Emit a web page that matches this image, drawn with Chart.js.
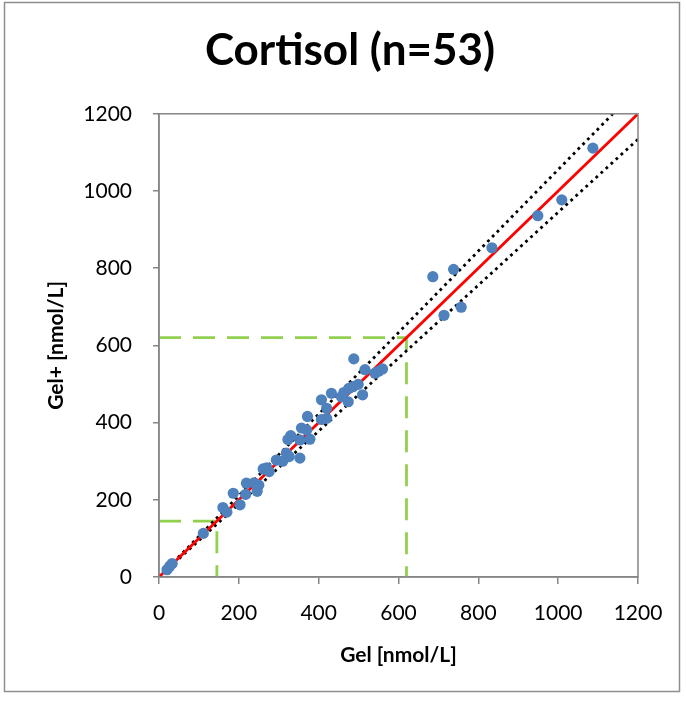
<!DOCTYPE html>
<html>
<head>
<meta charset="utf-8">
<title>Cortisol</title>
<script src="https://cdn.jsdelivr.net/npm/chart.js@4"></script>
<style>
  html, body { margin: 0; padding: 0; background: #fff; }
  #wrap { position: absolute; left: 0; top: 0; width: 686px; height: 702px; }
</style>
</head>
<body>
<div id="wrap"><canvas id="graficoCortisol" width="686" height="702"></canvas></div>
<script>
// Gel vs Gel+ cortisol values (nmol/L)
const gelValues = [
  20, 27, 33, 111, 160, 170, 186, 203, 217, 219,
  238, 246, 250, 261, 270, 276, 294, 310, 319, 326,
  353, 323, 330, 353, 378, 357, 370, 372, 407, 420,
  420, 407, 432, 457, 463, 474, 476, 486, 499, 510,
  488, 516, 541, 550, 560, 686, 714, 738, 757, 834,
  949, 1009, 1087
];
const gelPlusValues = [
  19, 28, 35, 113, 180, 168, 217, 187, 214, 243,
  244, 222, 238, 280, 283, 273, 303, 300, 321, 312,
  308, 356, 366, 355, 357, 386, 381, 416, 408, 411,
  437, 459, 476, 467, 478, 454, 489, 493, 499, 472,
  565, 537, 528, 533, 539, 778, 678, 797, 699, 853,
  936, 977, 1111
];

// identity line and the two limit lines
const identityX = [0, 1200];
const identityY = [0, 1200];
const upperLimitX = [0, 1137];
const upperLimitY = [0, 1200];
const lowerLimitX = [0, 1200];
const lowerLimitY = [0, 1134];

// cut-off guides
const cutoffHighX = [0, 620, 620];
const cutoffHighY = [620, 620, 0];
const cutoffLowX = [0, 145, 145];
const cutoffLowY = [145, 145, 0];

const axisTicks = [0, 200, 400, 600, 800, 1000, 1200];

function pares(xs, ys) {
  return xs.map(function(x, i) { return { x: x, y: ys[i] }; });
}

function linha(xs, ys, cor, largura, traco, ordem) {
  return {
    type: "line",
    data: pares(xs, ys),
    borderColor: cor,
    borderWidth: largura,
    borderDash: traco,
    borderCapStyle: "butt",
    pointRadius: 0,
    showLine: true,
    fill: false,
    tension: 0,
    order: ordem
  };
}

// moldura externa, contorno da área do gráfico e título deslocado
const molduras = {
  id: "molduras",
  afterLayout(chart) {
    if (chart.titleBlock) {
      chart.titleBlock.left += 26;
      chart.titleBlock.right += 26;
    }
  },
  beforeDraw(chart) {
    const ctx = chart.ctx;
    ctx.save();
    ctx.fillStyle = "#ffffff";
    ctx.fillRect(0, 0, chart.width, chart.height);
    ctx.strokeStyle = "#8e8e8e";
    ctx.lineWidth = 1.5;
    ctx.strokeRect(4.5, 2.5, 675, 689);
    ctx.restore();
  },
  afterDatasetsDraw(chart) {
    const a = chart.chartArea;
    const ctx = chart.ctx;
    ctx.save();
    ctx.strokeStyle = "#868686";
    ctx.lineWidth = 1.5;
    ctx.strokeRect(a.left, a.top, a.right - a.left, a.bottom - a.top);
    ctx.restore();
  }
};

Chart.defaults.font.family = "Lato, 'Open Sans', sans-serif";
Chart.defaults.color = "#000";

new Chart(document.getElementById("graficoCortisol"), {
  type: "scatter",
  data: {
    datasets: [
      {
        data: pares(gelValues, gelPlusValues),
        backgroundColor: "#4f81bd",
        borderColor: "#4f81bd",
        pointRadius: 5.6,
        pointBorderWidth: 0,
        order: 0
      },
      linha(identityX, identityY, "#ff0000", 2.8, [], 1),
      linha(upperLimitX, upperLimitY, "#000000", 2.8, [2.8, 4], 2),
      linha(lowerLimitX, lowerLimitY, "#000000", 2.8, [2.8, 4], 2),
      linha(cutoffHighX, cutoffHighY, "#92d050", 2.8, [22, 12], 3),
      linha(cutoffLowX, cutoffLowY, "#92d050", 2.8, [22, 12], 3)
    ]
  },
  plugins: [molduras],
  options: {
    responsive: false,
    animation: false,
    devicePixelRatio: 1,
    layout: { padding: { left: 10, right: 48, top: 0, bottom: 12 } },
    plugins: {
      legend: { display: false },
      tooltip: { enabled: false },
      title: {
        display: true,
        text: "Cortisol (n=53)",
        font: { size: 44, weight: "bold" },
        padding: { top: 24, bottom: 37 }
      }
    },
    scales: {
      x: {
        type: "linear",
        min: 0,
        max: 1200,
        afterBuildTicks(scale) { scale.ticks = axisTicks.map(v => ({ value: v })); },
        afterFit(scale) { scale.height = 113; },
        grid: { drawOnChartArea: false, drawTicks: true, tickLength: 7, color: "#868686", lineWidth: 1.5 },
        border: { display: true, color: "#868686", width: 1.5 },
        ticks: { font: { size: 21 }, padding: 17, maxRotation: 0, callback: v => String(v) },
        title: {
          display: true,
          text: "Gel [nmol/L]",
          font: { size: 21, weight: "bold" },
          padding: { top: 0, bottom: 22 }
        }
      },
      y: {
        type: "linear",
        min: 0,
        max: 1200,
        afterBuildTicks(scale) { scale.ticks = axisTicks.map(v => ({ value: v })); },
        afterFit(scale) { scale.width = 149; },
        grid: { drawOnChartArea: false, drawTicks: true, tickLength: 6, color: "#868686", lineWidth: 1.5 },
        border: { display: true, color: "#868686", width: 1.5 },
        ticks: { font: { size: 21 }, padding: 21, callback: v => String(v) },
        title: {
          display: true,
          text: "Gel+ [nmol/L]",
          font: { size: 21, weight: "bold" },
          padding: { top: 34, bottom: 0 }
        }
      }
    }
  }
});
</script>
</body>
</html>
